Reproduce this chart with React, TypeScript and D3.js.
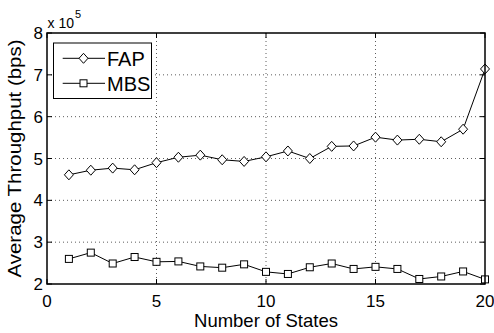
import React from 'react';
import * as d3 from 'd3';

// number of states on the x axis
const states = [1, 2, 3, 4, 5, 6, 7, 8, 9, 10, 11, 12, 13, 14, 15, 16, 17, 18, 19, 20];
// throughput, in units of 1e5 bps
const fapValues = [4.61, 4.72, 4.77, 4.73, 4.9, 5.03, 5.08, 4.97, 4.93, 5.04, 5.18, 5.0, 5.29, 5.3, 5.51, 5.44, 5.46, 5.4, 5.7, 7.14];
const mbsValues = [2.6, 2.75, 2.49, 2.645, 2.53, 2.54, 2.42, 2.39, 2.47, 2.29, 2.24, 2.4, 2.49, 2.36, 2.41, 2.36, 2.12, 2.18, 2.3, 2.11];
const xTicks = [0, 5, 10, 15, 20];
const yTicks = [2, 3, 4, 5, 6, 7, 8];
const seriesNames = ['FAP', 'MBS'];

const W = 494;
const H = 333;
const left = 47;
const right = 485;
const top = 33;
const bottom = 284;
const font = "'Liberation Sans', Arial, Helvetica, sans-serif";

const x = d3.scaleLinear().domain([0, 20]).range([left, right]);
const y = d3.scaleLinear().domain([2, 8]).range([bottom, top]);

const line = d3.line<number>()
  .x((_, i) => x(states[i]))
  .y(d => y(d));

const diamond = (cx: number, cy: number) =>
  `M${cx},${cy - 5}L${cx + 4.5},${cy}L${cx},${cy + 5}L${cx - 4.5},${cy}Z`;

const Marker = ({ kind, cx, cy }: { kind: string; cx: number; cy: number }) =>
  kind === 'FAP'
    ? <path d={diamond(cx, cy)} fill="white" stroke="black" strokeWidth={1} />
    : <rect x={cx - 3.5} y={cy - 3.5} width={7} height={7} fill="white" stroke="black" strokeWidth={1} />;

export default function App() {
  const tickLen = 5;
  return (
    <svg width={W} height={H} style={{ position: 'absolute', left: 0, top: 0, background: 'white' }}
      fontFamily={font}>
      <rect width={W} height={H} fill="white" />

      {/* grid */}
      {xTicks.slice(1, -1).map(t => (
        <line key={'gx' + t} x1={x(t)} x2={x(t)} y1={top} y2={bottom}
          stroke="#333" strokeWidth={0.8} strokeDasharray="1,3" />
      ))}
      {yTicks.slice(1, -1).map(t => (
        <line key={'gy' + t} x1={left} x2={right} y1={y(t)} y2={y(t)}
          stroke="#333" strokeWidth={0.8} strokeDasharray="1,3" />
      ))}

      {/* ticks */}
      {xTicks.map(t => (
        <g key={'tx' + t}>
          <line x1={x(t)} x2={x(t)} y1={bottom} y2={bottom - tickLen} stroke="black" />
          <line x1={x(t)} x2={x(t)} y1={top} y2={top + tickLen} stroke="black" />
          <text x={x(t)} y={307} fontSize={17} textAnchor="middle">{t}</text>
        </g>
      ))}
      {yTicks.map(t => (
        <g key={'ty' + t}>
          <line x1={left} x2={left + tickLen} y1={y(t)} y2={y(t)} stroke="black" />
          <line x1={right} x2={right - tickLen} y1={y(t)} y2={y(t)} stroke="black" />
          <text x={43} y={y(t)} dy="0.36em" fontSize={17} textAnchor="end">{t}</text>
        </g>
      ))}

      {/* series */}
      <path d={line(fapValues) || ''} fill="none" stroke="black" strokeWidth={1} />
      <path d={line(mbsValues) || ''} fill="none" stroke="black" strokeWidth={1} />
      {fapValues.map((v, i) => <Marker key={'f' + i} kind="FAP" cx={x(states[i])} cy={y(v)} />)}
      {mbsValues.map((v, i) => <Marker key={'m' + i} kind="MBS" cx={x(states[i])} cy={y(v)} />)}

      {/* frame */}
      <rect x={left} y={top} width={right - left} height={bottom - top} fill="none" stroke="black" strokeWidth={1.5} />

      {/* exponent */}
      <text x={47.5} y={27.5} fontSize={14}>
        x 10<tspan dx={1} dy={-10} fontSize={11}>5</tspan>
      </text>

      {/* legend */}
      <rect x={53.5} y={43} width={98} height={55.5} fill="white" stroke="black" strokeWidth={1} />
      {seriesNames.map((name, i) => {
        const ly = 58.3 + i * 25;
        return (
          <g key={name}>
            <line x1={62.7} x2={105} y1={ly} y2={ly} stroke="black" />
            <Marker kind={name} cx={83.5} cy={ly} />
            <text x={107} y={ly + 7.5} fontSize={20}>{name}</text>
          </g>
        );
      })}

      {/* axis labels */}
      <text x={(left + right) / 2} y={327} fontSize={18.5} textAnchor="middle">Number of States</text>
      <text transform={`translate(21,${(top + bottom) / 2}) rotate(-90)`} fontSize={18}
        textAnchor="middle" textLength={238} lengthAdjust="spacingAndGlyphs">Average Throughput (bps)</text>
    </svg>
  );
}
